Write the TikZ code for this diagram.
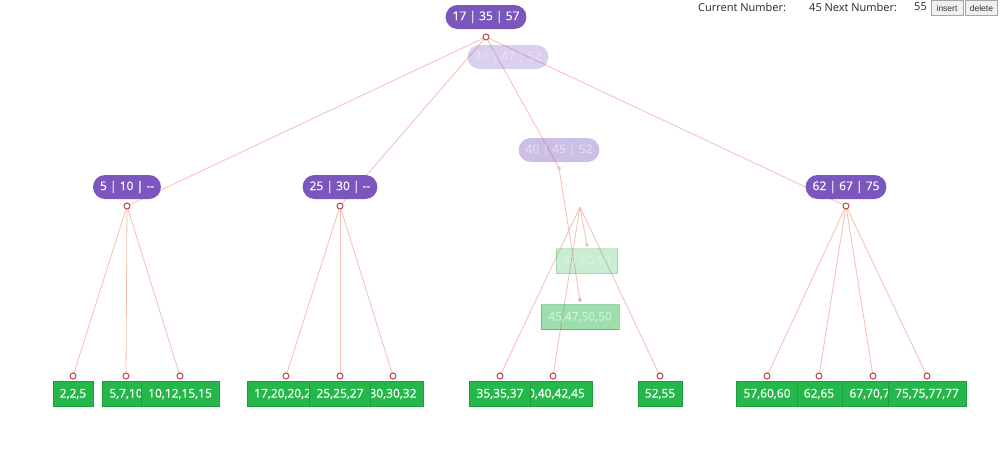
\documentclass[tikz,border=0pt]{standalone}
\usepackage{fontspec}
\setmainfont{Open Sans}
\newfontfamily\btnfont{Liberation Sans}
\newfontfamily\nodefont{Open Sans}[BoldFont=Open Sans, BoldFeatures={FakeBold=0.5}]
\usetikzlibrary{positioning,backgrounds}

\definecolor{knot}{RGB}{122,86,189}
\definecolor{leafgreen}{RGB}{36,184,74}
\definecolor{linkc}{RGB}{244,190,176}
\definecolor{dotred}{RGB}{196,64,64}

\begin{document}
\begin{tikzpicture}[
  x=1pt, y=-1pt, font=\nodefont\bfseries\fontsize{12}{14}\selectfont,
  inner/.style={fill=knot, text=white, rounded corners=12pt,
                minimum height=24pt, inner xsep=7pt},
  leaf/.style={fill=leafgreen, text=white, minimum height=25pt,
               inner xsep=7pt, draw=leafgreen!85!black, line width=0.4pt},
  link/.style={draw=linkc, line width=0.8pt},
  dot/.style={circle, draw=dotred, fill=white, line width=1pt,
              inner sep=0pt, minimum size=6pt},
  ghost/.style={opacity=#1},
  label/.style={anchor=west, inner sep=0pt, text=black!85,
                font=\normalfont\fontsize{11}{13}\selectfont},
  btn/.style={draw=black!35, fill=black!6, minimum width=32pt,
              minimum height=15pt, inner sep=0pt, text=black!80,
              font=\btnfont\fontsize{8.5}{10}\selectfont},
]
\useasboundingbox (0,0) rectangle (1000,469);

% circles under the nodes
\node[dot] (droot) at (486,37) {};
\node[dot] (dA) at (127,206) {};
\node[dot] (dB) at (340,206) {};
\node[dot] (dD) at (846,206) {};
\node[dot, ghost=0.3, minimum size=3pt] (dC) at (559,168) {};
\coordinate (apex) at (580,207);
\node[dot, ghost=0.3, minimum size=3pt] (dg1) at (587,245) {};
\node[dot, ghost=0.45, minimum size=3pt] (dg2) at (580,300) {};

\foreach \n/\x in {1/73, 2/126, 3/180, 4/286, 5/340, 6/393,
                   7/500, 8/553, 9/660, 10/767, 11/819, 12/873, 13/927}
  \node[dot] (d\n) at (\x,376) {};

% links
\begin{pgfonlayer}{background}
\foreach \c in {dA, dB, dD, dC}
  \draw[link] (droot.center) -- (\c.center);
\foreach \c in {d1, d2, d3}
  \draw[link] (dA.center) -- (\c.center);
\foreach \c in {d4, d5, d6}
  \draw[link] (dB.center) -- (\c.center);
\foreach \c in {d10, d11, d12, d13}
  \draw[link] (dD.center) -- (\c.center);
\foreach \c in {d7, d8, d9, dg1}
  \draw[link] (apex) -- (\c.center);
\draw[link] (dC.center) -- (dg2.center);
\end{pgfonlayer}

% inner nodes
\node[inner, ghost=0.28] (ghostup) at (508,57) {40 | 47 | 52};
\node[inner] (root) at (486,17) {17 | 35 | 57};
\node[inner] (nA) at (127,187) {5 | 10 | {-}{-}};
\node[inner] (nB) at (340,187) {25 | 30 | {-}{-}};
\node[inner, ghost=0.38] (nC) at (559,150) {40 | 45 | 52};
\node[inner] (nD) at (846,187) {62 | 67 | 75};

% moving leaves
\node[leaf, ghost=0.25] (g1) at (587,261) {47,50,50};
\node[leaf, ghost=0.45] (g2) at (580,317) {45,47,50,50};

% leaves
\node[leaf] (l1) at (73,394) {2,2,5};
\node[leaf] (l2) at (126,394) {5,7,10};
\node[leaf] (l3) at (180,394) {10,12,15,15};
\node[leaf] (l4) at (286,394) {17,20,20,22};
\node[leaf] (l6) at (393,394) {30,30,32};
\node[leaf] (l5) at (340,394) {25,25,27};
\node[leaf] (l8) at (553,394) {40,40,42,45};
\node[leaf] (l7) at (500,394) {35,35,37};
\node[leaf] (l9) at (660,394) {52,55};
\node[leaf, minimum width=48pt] (l11) at (819,394) {62,65};
\node[leaf] (l10) at (767,394) {57,60,60};
\node[leaf] (l12) at (873,394) {67,70,70};
\node[leaf] (l13) at (927,394) {75,75,77,77};

% controls
\node[label] (cur) at (698,7) {Current Number:};
\node[label] (nxt) at (809,7) {45 Next Number:};
\node[label] (val) at (914,7) {55};
\node[btn] (ins) at (947,8) {insert};
\node[btn, right=2pt of ins] (del) {delete};

\end{tikzpicture}
\end{document}
